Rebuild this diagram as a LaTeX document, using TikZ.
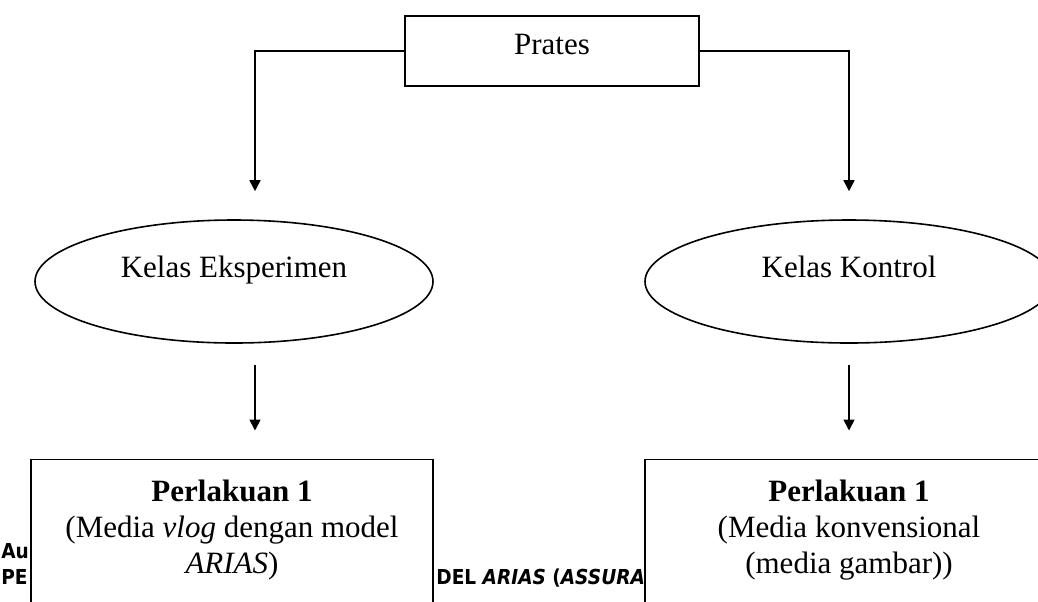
\documentclass[tikz,border=0pt]{standalone}
\usepackage{fontspec}
\setmainfont{Liberation Serif}
\newfontfamily\footfont[FakeStretch=0.9]{DejaVu Sans}
\usetikzlibrary{arrows.meta,shapes.geometric}

\begin{document}
\begin{tikzpicture}[x=0.5pt,y=-0.5pt,
  font=\fontsize{15.5}{18}\selectfont,
  kotak/.style={draw,line width=0.8pt,fill=white,inner sep=0pt},
  elips/.style={draw,ellipse,line width=0.8pt,inner sep=0pt,minimum height=61.5pt,text depth=15pt},
  kaki/.style={anchor=base west,inner sep=0pt,font=\footfont\bfseries\fontsize{10.3}{10.3}\selectfont},
  panah/.style={-{Triangle[width=5.5pt,length=5.5pt]},line width=0.85pt}]
\useasboundingbox (0,0) rectangle (1038,601);

% sisa teks halaman di belakang kotak
\node[kaki] (k1) at (1,558) {Au};
\node[kaki] (k2) at (1,584) {PE};
\node[kaki] (k3) at (436,584) {DEL \textit{ARIAS} (\textit{ASSURA}};

\node[kotak,minimum width=147pt,minimum height=35pt,text depth=6.3pt] (pre) at (552,51) {Prates};
\node[elips,minimum width=199pt] (eks) at (234,281.5) {Kelas Eksperimen};
\node[elips,minimum width=204pt] (kon) at (849,281.5) {Kelas Kontrol};
\node[kotak,anchor=north,minimum width=201pt,align=center,inner ysep=10.25pt,text depth=40pt] (p1) at (232,458.5)
  {\textbf{Perlakuan 1}\\(Media \textit{vlog} dengan model\\\textit{ARIAS})};
\node[kotak,anchor=north,minimum width=204pt,align=center,inner ysep=10.25pt,text depth=40pt] (p2) at (849,458.5)
  {\textbf{Perlakuan 1}\\(Media konvensional\\(media gambar))};

\draw[panah,shorten >=14pt] (pre.west) -| ([xshift=10.5pt]eks.north);
\draw[panah,shorten >=14pt] (pre.east) -| (kon.north);
\draw[panah,shorten <=10.5pt,shorten >=14pt] ([xshift=10.5pt]eks.south) -- ([xshift=10.5pt]eks.south |- p1.north);
\draw[panah,shorten <=10.5pt,shorten >=14pt] (kon.south) -- (kon.south |- p2.north);
\end{tikzpicture}
\end{document}
